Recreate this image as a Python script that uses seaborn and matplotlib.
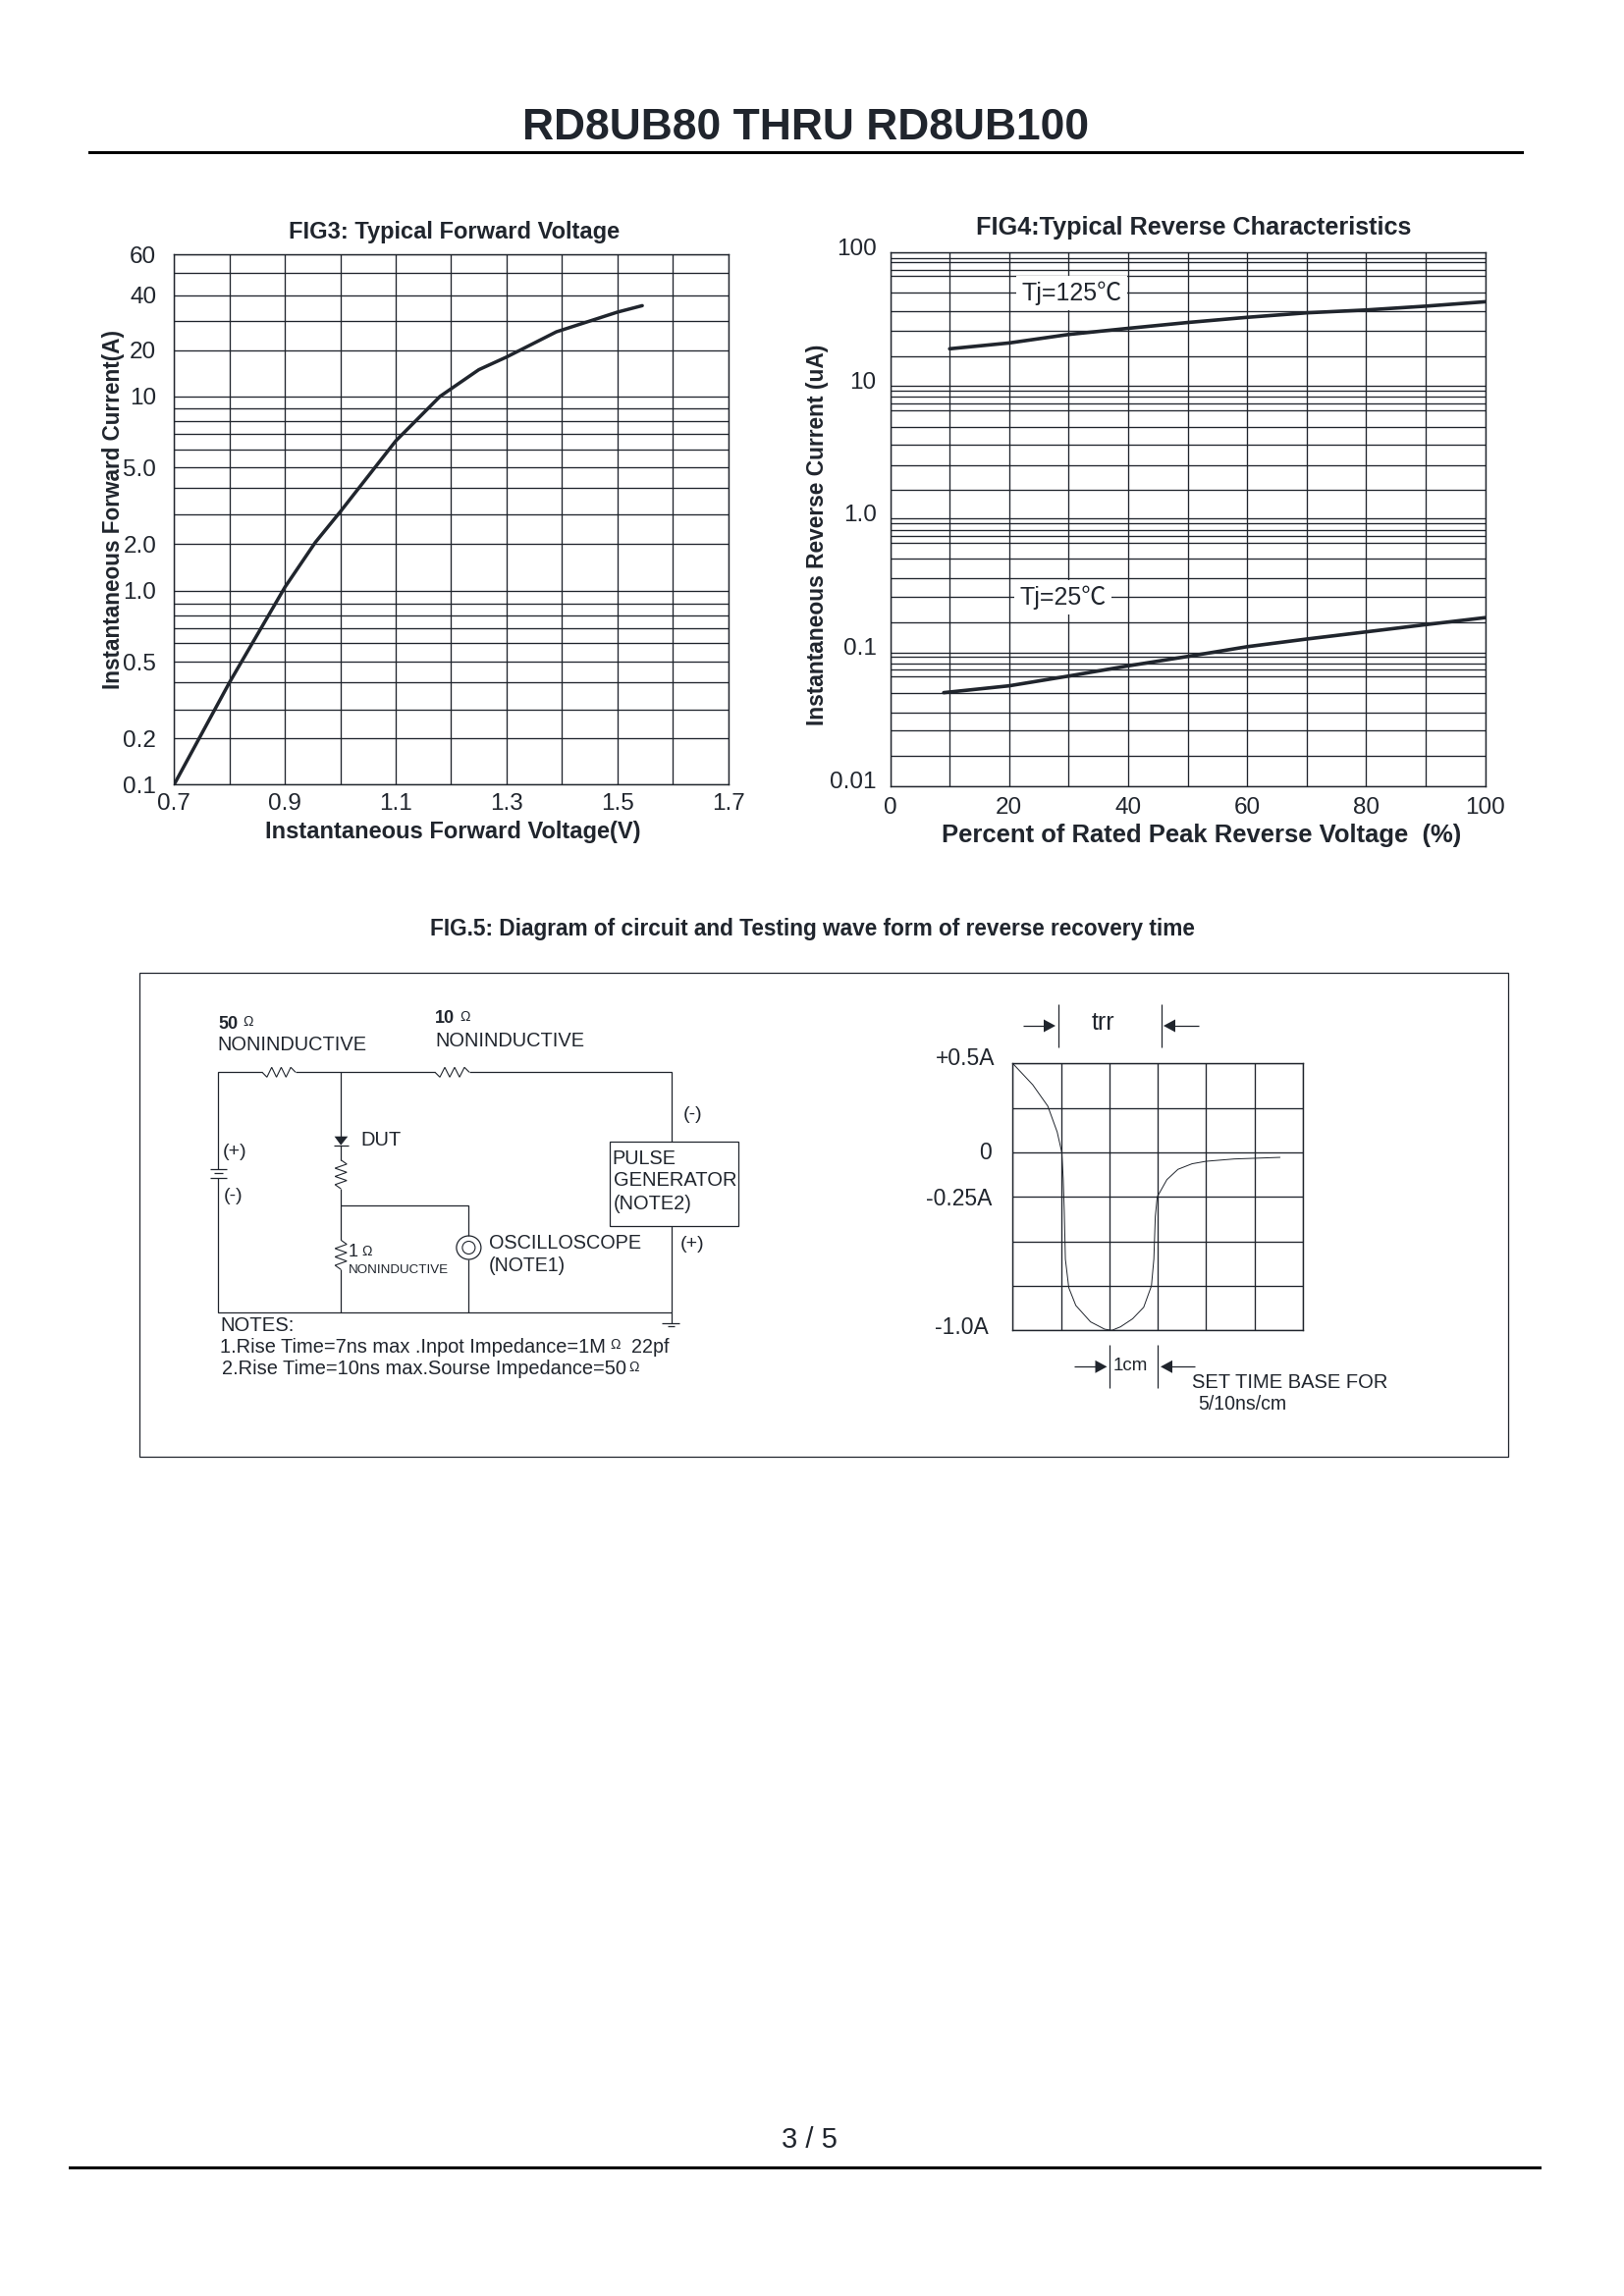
import numpy as np
import pandas as pd
import seaborn as sns
import matplotlib.pyplot as plt
from matplotlib.patches import Polygon, Rectangle, Ellipse, Circle
from matplotlib.ticker import FixedLocator, NullFormatter, FixedFormatter
from matplotlib.transforms import ScaledTranslation

# FIG3 values
fig3_voltage = [0.7, 0.8, 0.9, 0.955, 1.0, 1.1, 1.18, 1.25, 1.3, 1.39, 1.5, 1.545]
fig3_current = [0.1, 0.4, 1.05, 2.05, 3.1, 6.5, 10, 14.9, 18, 25.7, 33, 35.5]
fig3_xticks = [0.7, 0.9, 1.1, 1.3, 1.5, 1.7]
fig3_xgrid = [0.7, 0.8, 0.9, 1.0, 1.1, 1.2, 1.3, 1.4, 1.5, 1.6, 1.7]
fig3_levels = [0.1, 0.2, 0.3, 0.4, 0.5, 0.6, 0.7, 0.8, 0.9, 1, 2, 3, 4, 5, 6, 7, 8, 9, 10, 20, 30, 40, 50, 60]
fig3_yticks = {0.1: "0.1", 0.2: "0.2", 0.5: "0.5", 1: "1.0", 2: "2.0", 5: "5.0", 10: "10", 20: "20", 40: "40", 60: "60"}
# the printed grid is hand drawn, not a true log: height of each level on the sheet
fig3_level_pos = [1382, 1274, 1205, 1142, 1094, 1050, 1014, 984, 956, 926, 817, 748, 686, 637, 594, 557, 527, 499, 470, 361, 292, 232, 181, 137]

# FIG4 values
fig4_percent = [9, 20, 30, 40, 50, 60, 70, 80, 90, 100]
fig4_tj25 = [0.05, 0.0539, 0.06, 0.0758, 0.091, 0.1146, 0.1366, 0.161, 0.19, 0.216]
fig4_percent_125 = [10, 20, 30, 40, 50, 60, 70, 80, 90, 100]
fig4_tj125 = [22.7, 24.9, 28.5, 31.3, 34.1, 36.8, 39.3, 40.8, 42.7, 45]
fig4_levels = [0.01, 0.02, 0.03, 0.04, 0.05, 0.06, 0.07, 0.08, 0.09,
               0.1, 0.2, 0.3, 0.4, 0.5, 0.6, 0.7, 0.8, 0.9,
               1, 2, 3, 4, 5, 6, 7, 8, 9,
               10, 20, 30, 40, 50, 60, 70, 80, 90, 100]
fig4_yticks = {0.01: "0.01", 0.1: "0.1", 1: "1.0", 10: "10", 100: "100"}
fig4_level_pos = [1385, 1315, 1255, 1212, 1166, 1127, 1112, 1097, 1082,
                  1072, 1001, 942, 898, 852, 815, 798, 783, 768,
                  757, 690, 631, 584, 541, 502, 486, 471, 456,
                  446, 377, 317, 271, 227, 188, 174, 155, 145, 132]

# FIG5 waveform, x in cm, y in A
wave_t = [0, 0.414, 0.726, 0.92, 1.016, 1.045, 1.067, 1.09, 1.16, 1.306, 1.61, 1.9, 2.05, 2.23, 2.48,
          2.71, 2.87, 2.92, 2.95, 2.99, 3.19, 3.42, 3.71, 4.0, 4.58, 5.53]
wave_i = [0.5, 0.38, 0.26, 0.115, 0, -0.147, -0.33, -0.6, -0.76, -0.86, -0.952, -0.993, -1.0, -0.98, -0.935,
          -0.87, -0.75, -0.6, -0.36, -0.25, -0.153, -0.095, -0.064, -0.05, -0.037, -0.028]

INK = "#20252d"
W, H = 1654, 2339

sns.set_theme(style="white", rc={"axes.linewidth": 1.0})
plt.rcParams["font.family"] = ["Liberation Sans", "Noto Sans CJK SC", "DejaVu Sans"]
plt.rcParams["text.color"] = INK

fig = plt.figure(figsize=(W / 100, H / 100), dpi=100)
page = fig.add_axes([0, 0, 1, 1])
page.set_xlim(0, W)
page.set_ylim(H, 0)
page.axis("off")


def fit(txt, width):
    # scale a text so that it spans the given pixel width
    r = fig.canvas.get_renderer()
    box = txt.get_window_extent(r)
    txt.set_fontsize(txt.get_fontsize() * width / max(box.width, box.height))
    return txt


def put(x, y, s, size=13, width=None, ha="left", weight="normal", **kw):
    t = page.text(x, y, s, fontsize=size, ha=ha, va="center", fontweight=weight, color=INK, **kw)
    if width:
        fit(t, width)
    return t


def wire(xs, ys, lw=0.9):
    page.plot(xs, ys, color=INK, lw=lw, solid_capstyle="butt", solid_joinstyle="miter")


def zigzag(x0, y0, x1, y1, n=3, amp=6):
    # resistor symbol between two points
    t = np.linspace(0, 1, 2 * n + 2)
    off = np.zeros_like(t)
    off[1:-1] = amp * np.where(np.arange(len(t) - 2) % 2 == 0, 1, -1)
    nx, ny = (y1 - y0), (x1 - x0)
    ln = np.hypot(nx, ny)
    wire(x0 + (x1 - x0) * t + off * nx / ln, y0 + (y1 - y0) * t + off * ny / ln, lw=0.8)


def arrow(x_tail, x_tip, y):
    d = 1 if x_tip > x_tail else -1
    wire([x_tail, x_tip - d * 10], [y, y])
    page.add_patch(Polygon([[x_tip, y], [x_tip - d * 12, y - 6.5], [x_tip - d * 12, y + 6.5]], closed=True, color=INK, lw=0))


def make_axes(left, top, right, bottom):
    return fig.add_axes([left / W, 1 - bottom / H, (right - left) / W, (bottom - top) / H])


def sheet_scale(levels, pos):
    # value <-> height on the printed sheet
    lv = np.log10(levels)
    p = np.asarray(pos, dtype=float)
    hy = (p[0] - p) / (p[0] - p[-1])

    def forward(v):
        return np.interp(np.log10(np.clip(v, 1e-6, None)), lv, hy)

    def inverse(f):
        return 10 ** np.interp(f, hy, lv)

    return forward, inverse


def grid_style(ax):
    ax.grid(True, which="major", color=INK, lw=0.95)
    ax.set_axisbelow(True)
    for s in ax.spines.values():
        s.set_color(INK)
        s.set_linewidth(1.0)
    ax.tick_params(axis="both", length=0, colors=INK, labelsize=17.5)


# ---- FIG3 ----
box3 = (177.3, 259.4, 741.6, 799.3)
ax3 = make_axes(*box3)
df3 = pd.DataFrame({"voltage": fig3_voltage, "current": fig3_current})
sns.lineplot(data=df3, x="voltage", y="current", ax=ax3, color=INK, linewidth=2.5, estimator=None, sort=False)
ax3.set_yscale("function", functions=sheet_scale(fig3_levels, fig3_level_pos))
ax3.set_xlim(0.7, 1.7)
ax3.set_ylim(0.1, 60)
ax3.yaxis.set_major_locator(FixedLocator(fig3_levels))
ax3.yaxis.set_major_formatter(FixedFormatter([fig3_yticks.get(v, "") for v in fig3_levels]))
ax3.yaxis.set_minor_formatter(NullFormatter())
ax3.set_xticks(fig3_xgrid)
ax3.set_xticklabels([f"{v:.1f}" if v in fig3_xticks else "" for v in fig3_xgrid])
grid_style(ax3)
ax3.tick_params(axis="y", pad=13)
ax3.tick_params(axis="x", pad=6)
t = ax3.set_title("FIG3: Typical Forward Voltage", x=(462.6 - box3[0]) / (box3[2] - box3[0]),
                  y=(box3[3] - 244.7) / (box3[3] - box3[1]), va="center", fontweight="bold", fontsize=15, color=INK)
fit(t, 339)
t = ax3.set_xlabel("Instantaneous Forward Voltage(V)", fontweight="bold", fontsize=15, color=INK)
ax3.xaxis.set_label_coords((461.7 - box3[0]) / (box3[2] - box3[0]), (box3[3] - 847.5) / (box3[3] - box3[1]))
t.set_va("center")
fit(t, 384)
t = ax3.set_ylabel("Instantaneous Forward Current(A)", fontweight="bold", fontsize=15, color=INK)
ax3.yaxis.set_label_coords((116 - box3[0]) / (box3[2] - box3[0]), (box3[3] - 518.7) / (box3[3] - box3[1]))
t.set_va("center")
fit(t, 368)

# ---- FIG4 ----
box4 = (906.6, 257.2, 1512.6, 800.6)
ax4 = make_axes(*box4)
df4 = pd.concat([
    pd.DataFrame({"percent": fig4_percent_125, "current": fig4_tj125, "tj": "125"}),
    pd.DataFrame({"percent": fig4_percent, "current": fig4_tj25, "tj": "25"}),
])
sns.lineplot(data=df4, x="percent", y="current", hue="tj", palette=[INK, INK], ax=ax4, linewidth=2.6,
             estimator=None, sort=False, legend=False)
ax4.set_yscale("function", functions=sheet_scale(fig4_levels, fig4_level_pos))
ax4.set_xlim(0, 100)
ax4.set_ylim(0.01, 100)
ax4.yaxis.set_major_locator(FixedLocator(fig4_levels))
ax4.yaxis.set_major_formatter(FixedFormatter([fig4_yticks.get(v, "") for v in fig4_levels]))
ax4.yaxis.set_minor_formatter(NullFormatter())
ax4.set_xticks(range(0, 101, 10))
ax4.set_xticklabels([str(v) if v % 20 == 0 else "" for v in range(0, 101, 10)])
grid_style(ax4)
ax4.tick_params(axis="y", pad=10)
ax4.tick_params(axis="x", pad=8)
for lab in ax4.get_yticklabels():
    lab.set_transform(lab.get_transform() + ScaledTranslation(0, 6 / 100, fig.dpi_scale_trans))
t = ax4.set_title("FIG4:Typical Reverse Characteristics", x=(1216 - box4[0]) / (box4[2] - box4[0]),
                  y=(box4[3] - 240.4) / (box4[3] - box4[1]), va="center", fontweight="bold", fontsize=15, color=INK)
fit(t, 447)
t = ax4.set_xlabel("Percent of Rated Peak Reverse Voltage  (%)", fontweight="bold", fontsize=15, color=INK)
ax4.xaxis.set_label_coords((1224 - box4[0]) / (box4[2] - box4[0]), (box4[3] - 850.5) / (box4[3] - box4[1]))
t.set_va("center")
fit(t, 532)
t = ax4.set_ylabel("Instantaneous Reverse Current (uA)", fontweight="bold", fontsize=15, color=INK)
ax4.yaxis.set_label_coords((833 - box4[0]) / (box4[2] - box4[0]), (box4[3] - 544.8) / (box4[3] - box4[1]))
t.set_va("center")
fit(t, 390)
ax4.text(30.5, 50, "Tj=125℃", fontsize=18, color=INK, ha="center", va="center", zorder=5,
         bbox=dict(fc="white", ec="none", pad=4))
ax4.text(29, 0.3, "Tj=25℃", fontsize=18, color=INK, ha="center", va="center", zorder=5,
         bbox=dict(fc="white", ec="none", pad=4))

# ---- page header and footer ----
put(821, 130, "RD8UB80 THRU RD8UB100", size=30, width=577, ha="center", weight="bold")
page.add_patch(Rectangle((90, 153.8), 1462, 3, color="black", lw=0))
put(824, 2180, "3 / 5", size=21, ha="center")
page.add_patch(Rectangle((70, 2206.5), 1500, 3, color="black", lw=0))
put(827, 947, "FIG.5: Diagram of circuit and Testing wave form of reverse recovery time", size=14, width=782, ha="center", weight="bold")
page.add_patch(Rectangle((141.6, 991), 1394.4, 493, fc="none", ec=INK, lw=0.9))

# ---- FIG5 circuit ----
wire([222, 222, 267], [1190.7, 1092.3, 1092.3])
zigzag(267, 1092.3, 301, 1092.3, amp=5)
wire([301, 443], [1092.3, 1092.3])
zigzag(443, 1092.3, 478, 1092.3, amp=5)
wire([478, 683.5, 683.5], [1092.3, 1092.3, 1163])
page.add_patch(Rectangle((620.5, 1163), 131, 86.3, fc="none", ec=INK, lw=0.9))
wire([683.5, 683.5, 222, 222], [1249.3, 1337.3, 1337.3, 1200])
wire([683.5, 683.5], [1337.3, 1347.7])
wire([674, 692], [1347.7, 1347.7])
wire([680, 687], [1351, 1351])
wire([214, 231], [1190.7, 1190.7])
wire([218, 227], [1195, 1195])
wire([214, 231], [1200, 1200])
wire([347.2, 347.2], [1092.3, 1157.7])
page.add_patch(Polygon([[340.6, 1157.7], [354.3, 1157.7], [347.2, 1166.7]], closed=True, color=INK, lw=0))
wire([340, 355], [1167.3, 1167.3])
wire([347.2, 347.2], [1167.3, 1181.7])
zigzag(347.2, 1181.7, 347.2, 1211)
wire([347.2, 347.2], [1211, 1263.3])
zigzag(347.2, 1263.3, 347.2, 1293.3)
wire([347.2, 347.2], [1293.3, 1337.3])
wire([347.2, 477.4, 477.4], [1228.3, 1228.3, 1259.3])
wire([477.4, 477.4], [1282.7, 1337.3])
page.add_patch(Ellipse((477.4, 1271), 25, 24, fc="none", ec=INK, lw=0.9))
page.add_patch(Circle((477.4, 1271), 6.5, fc="none", ec=INK, lw=0.8))

put(222, 1043, "50", size=13, weight="bold")
put(247, 1041, "Ω", size=10)
put(443, 1038, "10", size=13, weight="bold")
put(468, 1036, "Ω", size=10)
put(221, 1064.5, "NONINDUCTIVE", size=13, width=152)
put(443, 1060, "NONINDUCTIVE", size=13, width=152)
put(238.6, 1173, "(+)", size=14, ha="center")
put(237.8, 1218.5, "(-)", size=14, ha="center")
put(367, 1161.5, "DUT", size=13, width=41)
put(705.5, 1135.5, "(-)", size=14, ha="center")
put(705, 1268, "(+)", size=14, ha="center")
put(623.4, 1181, "PULSE", size=13, width=65)
put(624.6, 1203, "GENERATOR", size=13, width=125)
put(624.6, 1227, "(NOTE2)", size=13, width=80)
put(497.7, 1267, "OSCILLOSCOPE", size=13, width=155)
put(497.7, 1289.5, "(NOTE1)", size=13, width=78)
put(355, 1276, "1", size=13)
put(368, 1275, "Ω", size=10)
put(355, 1294.3, "NONINDUCTIVE", size=8, width=101.5)
put(224.5, 1350, "NOTES:", size=13, width=75)
put(224.5, 1372, "1.Rise Time=7ns max .Inpot Impedance=1M", size=13, width=391)
put(621, 1370, "Ω", size=10)
put(643, 1372, "22pf", size=13, width=38)
put(226, 1395, "2.Rise Time=10ns max.Sourse Impedance=50", size=13, width=410)
put(640, 1393, "Ω", size=10)

# ---- FIG5 waveform ----
ax5 = make_axes(1031.4, 1083.3, 1326.8, 1355.3)
df5 = pd.DataFrame({"t": wave_t, "i": wave_i})
sns.lineplot(data=df5, x="t", y="i", ax=ax5, color=INK, linewidth=0.7, estimator=None, sort=False)
ax5.set_xlim(0, 6)
ax5.set_ylim(-1.0, 0.5)
ax5.set_xticks(range(7))
ax5.set_yticks(np.arange(-1.0, 0.51, 0.25))
ax5.set_xticklabels([])
ax5.set_yticklabels([])
grid_style(ax5)
ax5.set_xlabel("")
ax5.set_ylabel("")

put(1013.5, 1078.5, "+0.5A", size=16.5, ha="right")
put(1003.5, 1174.5, "0", size=16.5, ha="center")
put(1010.5, 1221, "-0.25A", size=16.5, ha="right")
put(1007, 1352.5, "-1.0A", size=16.5, ha="right")
put(1123, 1042, "trr", size=18, ha="center")
wire([1078, 1078], [1022.7, 1066.7])
wire([1182.5, 1182.5], [1022.7, 1066.7])
arrow(1042, 1075, 1045)
arrow(1220.7, 1185, 1045)
wire([1130.4, 1130.4], [1370, 1414.3])
wire([1179.3, 1179.3], [1370, 1414.3])
arrow(1094, 1127.5, 1392.3)
arrow(1217, 1182, 1392.3)
put(1151, 1391, "1cm", size=13.5, ha="center")
put(1213.6, 1408.5, "SET TIME BASE FOR", size=13, width=199)
put(1220.7, 1430, "5/10ns/cm", size=12, width=90)

fig.savefig("out.png", dpi=100)
